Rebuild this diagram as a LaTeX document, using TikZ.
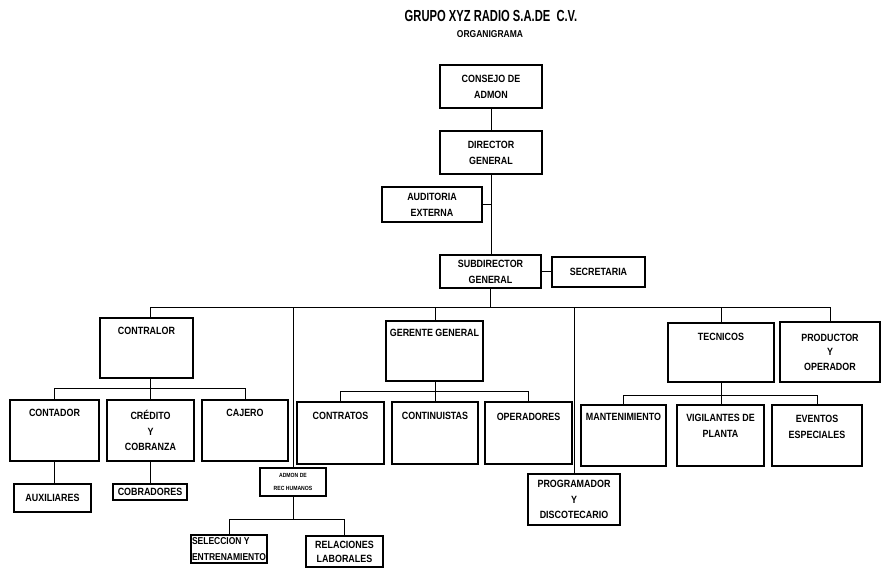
\documentclass[tikz,border=0pt]{standalone}
\usepackage{fontspec}
\setmainfont{Liberation Sans}[FakeStretch=0.85]
\newfontfamily\titlefont{Liberation Sans}[FakeStretch=0.7]
\usetikzlibrary{calc}
\begin{document}
\begin{tikzpicture}[x=1pt,y=-1pt,
  box/.style={draw, line width=1.5pt, inner sep=0pt, align=center,
    font=\bfseries\fontsize{10.5}{16}\selectfont},
  tl/.style={anchor=center, align=center, inner sep=0pt,
    font=\bfseries\fontsize{10.5}{16}\selectfont},
  conn/.style={line width=0.8pt}]
\useasboundingbox (0,0) rectangle (883,569);

% title
\node[font=\titlefont\bfseries\fontsize{16}{18}\selectfont] (title) at (491,16) {GRUPO XYZ RADIO S.A.DE \ C.V.};
\node[font=\bfseries\fontsize{10}{12}\selectfont] (subtitle) at (490,34) {ORGANIGRAMA};

% upper chain
\node[box, minimum width=102pt, minimum height=43pt] (consejo) at (491,86.5) {CONSEJO DE\\ADMON};
\node[box, minimum width=102pt, minimum height=43pt] (director) at (491,152.5) {DIRECTOR\\GENERAL};
\node[box, minimum width=100pt, minimum height=35pt] (auditoria) at (432,204.5) {AUDITORIA\\EXTERNA};
\node[box, minimum width=101pt, minimum height=33pt] (subdir) at (490.5,271.5) {SUBDIRECTOR\\GENERAL};
\node[box, minimum width=93pt, minimum height=30pt] (secretaria) at (598.5,272) {SECRETARIA};

% second level
\node[box, minimum width=93pt, minimum height=60pt, label={[tl, yshift=-14pt]north:CONTRALOR}] (contralor) at (146.5,348) {};
\node[box, minimum width=97pt, minimum height=60pt, label={[tl, yshift=-13pt]north:GERENTE GENERAL}] (gerente) at (434.5,351) {};
\node[box, minimum width=106pt, minimum height=59pt, label={[tl, yshift=-15pt]north:TECNICOS}] (tecnicos) at (721,352.5) {};
\node[box, minimum width=100pt, minimum height=60pt, font=\bfseries\fontsize{10.5}{14.5}\selectfont] (productor) at (830,352) {PRODUCTOR\\Y\\OPERADOR};

% third level
\node[box, minimum width=89pt, minimum height=61pt, label={[tl, yshift=-14pt]north:CONTADOR}] (contador) at (54.5,430.5) {};
\node[box, minimum width=87pt, minimum height=61pt, font=\bfseries\fontsize{10.5}{15.5}\selectfont] (credito) at (150.5,430.5) {CRÉDITO\\Y\\COBRANZA};
\node[box, minimum width=86pt, minimum height=61pt, label={[tl, yshift=-14pt]north:CAJERO}] (cajero) at (245,430.5) {};
\node[box, minimum width=87pt, minimum height=62pt, label={[tl, yshift=-15pt]north:CONTRATOS}] (contratos) at (340.5,433) {};
\node[box, minimum width=86pt, minimum height=62pt, label={[tl, yshift=-15pt]north:CONTINUISTAS}] (continuistas) at (435,433) {};
\node[box, minimum width=87pt, minimum height=62pt, label={[tl, yshift=-16pt]north:OPERADORES}] (operadores) at (528.5,433) {};
\node[box, minimum width=85pt, minimum height=61pt, label={[tl, yshift=-13pt]north:MANTENIMIENTO}] (mantenimiento) at (623.5,435.5) {};
\node[box, minimum width=87pt, minimum height=61pt, label={[tl, yshift=-22pt]north:VIGILANTES DE\\PLANTA}] (vigilantes) at (720.5,435.5) {};
\node[box, minimum width=90pt, minimum height=61pt, label={[tl, yshift=-22.5pt]north:EVENTOS\\ESPECIALES}] (eventos) at (817,435.5) {};

% fourth level
\node[box, minimum width=77pt, minimum height=28pt] (auxiliares) at (52.5,498) {AUXILIARES};
\node[box, minimum width=74pt, minimum height=16pt] (cobradores) at (150,492) {COBRADORES};
\node[box, minimum width=66pt, minimum height=28pt, font=\bfseries\fontsize{6}{13}\selectfont] (admonrh) at (293,482) {ADMON DE\\REC HUMANOS};
\node[box, minimum width=92pt, minimum height=51pt, font=\bfseries\fontsize{10.5}{15.5}\selectfont] (programador) at (574,499.5) {PROGRAMADOR\\Y\\DISCOTECARIO};
\node[box, minimum width=76pt, minimum height=28pt, align=left, font=\bfseries\fontsize{10}{16}\selectfont] (seleccion) at (229,549) {SELECCION Y\\ENTRENAMIENTO};
\node[box, minimum width=77pt, minimum height=31pt, font=\bfseries\fontsize{10.5}{14}\selectfont] (relaciones) at (344.5,551.5) {RELACIONES\\LABORALES};

% connectors
\coordinate (bus) at (490.5,307);
\draw[conn] (consejo.south) -- (consejo.south |- director.north);
\draw[conn] (director.south) -- (director.south |- subdir.north);
\draw[conn] (auditoria.east) -- (auditoria.east -| director.south);
\draw[conn] (subdir.east) -- (subdir.east -| secretaria.west);
\draw[conn] (subdir.south) -- (subdir.south |- bus);
\draw[conn] (credito.north |- contralor.north) -- (credito.north |- bus) -| (productor.north);
\draw[conn] (bus -| continuistas.north) -- (gerente.north -| continuistas.north);
\draw[conn] (tecnicos.north) -- (tecnicos.north |- bus);
\draw[conn] (admonrh.north) -- (admonrh.north |- bus);
\draw[conn] (programador.north) -- (programador.north |- bus);

\draw[conn] (credito.north |- contralor.south) -- (credito.north);
\draw[conn] (contador.north) -- ++(0,-11) -| (cajero.north);
\draw[conn] (gerente.south -| continuistas.north) -- (continuistas.north);
\draw[conn] (contratos.north) -- ++(0,-10) -| (operadores.north);
\draw[conn] (tecnicos.south) -- (tecnicos.south |- vigilantes.north);
\draw[conn] (mantenimiento.north) -- ++(0,-9) -| (eventos.north);

\draw[conn] (contador.south) -- (contador.south |- auxiliares.north);
\draw[conn] (credito.south) -- (credito.south |- cobradores.north);
\draw[conn] (admonrh.south) -- (admonrh.south |- 0,520);
\draw[conn] (seleccion.north) -- ++(0,-15) -| (relaciones.north);
\end{tikzpicture}
\end{document}
